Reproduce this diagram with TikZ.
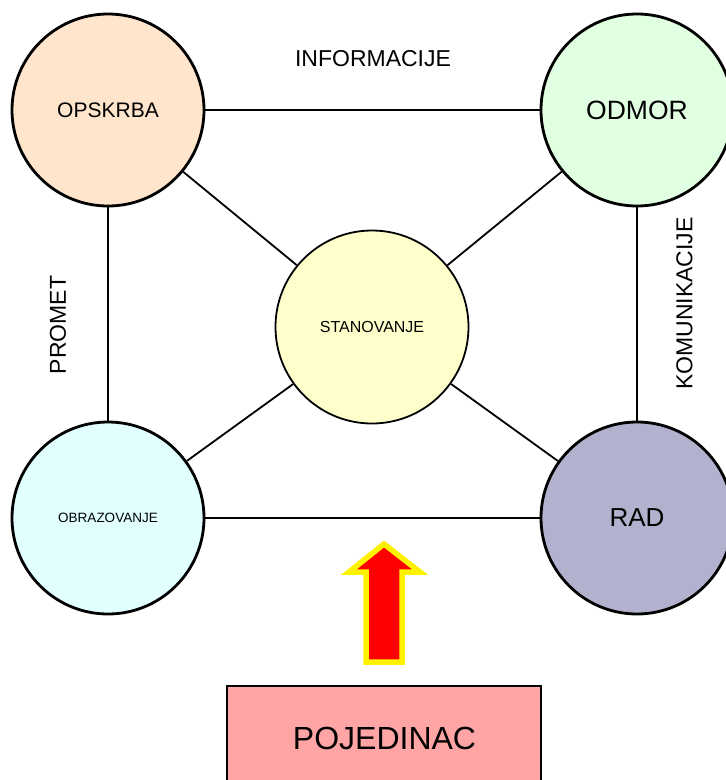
\documentclass[tikz,border=0pt]{standalone}
\usepackage{fontspec}
\setmainfont{Liberation Sans}
\begin{document}
\begin{tikzpicture}[x=1pt,y=-1pt,
  bigcirc/.style={circle,draw=black,line width=2.8pt,minimum size=192pt,inner sep=0pt},
  midcirc/.style={circle,draw=black,line width=1.8pt,minimum size=193pt,inner sep=0pt},
  link/.style={draw=black,line width=1.8pt},
  lbl/.style={inner sep=0pt,font=\fontsize{23}{27}\selectfont}
]
\definecolor{cpeach}{RGB}{255,229,204}
\definecolor{cgreen}{RGB}{225,255,225}
\definecolor{cyel}{RGB}{255,255,204}
\definecolor{ccyan}{RGB}{225,255,255}
\definecolor{clav}{RGB}{178,178,206}
\definecolor{cpink}{RGB}{255,165,165}
\useasboundingbox (0,0) rectangle (726,780);
\clip (0,0) rectangle (726,780);

\node[bigcirc,fill=cpeach,font=\fontsize{21}{25}\selectfont] (ops) at (108,110) {OPSKRBA};
\node[bigcirc,fill=cgreen,font=\fontsize{26.5}{30}\selectfont] (odm) at (637,110) {ODMOR};
\node[midcirc,fill=cyel,font=\fontsize{16}{19}\selectfont] (sta) at (372,327) {STANOVANJE};
\node[bigcirc,fill=ccyan,font=\fontsize{13.5}{16}\selectfont] (obr) at (108,518) {OBRAZOVANJE};
\node[bigcirc,fill=clav,font=\fontsize{26}{30}\selectfont] (rad) at (637,518) {RAD};

\draw[link] (ops) -- (odm);
\draw[link] (ops) -- (obr);
\draw[link] (odm) -- (rad);
\draw[link] (obr) -- (rad);
\draw[link] (ops) -- (sta);
\draw[link] (odm) -- (sta);
\draw[link] (obr) -- (sta);
\draw[link] (rad) -- (sta);

\node[lbl] (inf) at (373,59) {INFORMACIJE};
\node[lbl,rotate=90] (pro) at (58,325) {PROMET};
\node[lbl,rotate=90] (kom) at (684.5,303.5) {KOMUNIKACIJE};

\draw[draw=yellow,fill=red,line width=5.5pt,line join=miter]
  (366,662) -- (366,572) -- (349,572) -- (384,544) -- (420,572) -- (402,572) -- (402,662) -- cycle;

\draw[draw=black,line width=2pt,fill=cpink] (227,686) rectangle (541,800);
\node[inner sep=0pt,font=\fontsize{32}{36}\selectfont] (poj) at (384.5,738) {POJEDINAC};
\end{tikzpicture}
\end{document}
